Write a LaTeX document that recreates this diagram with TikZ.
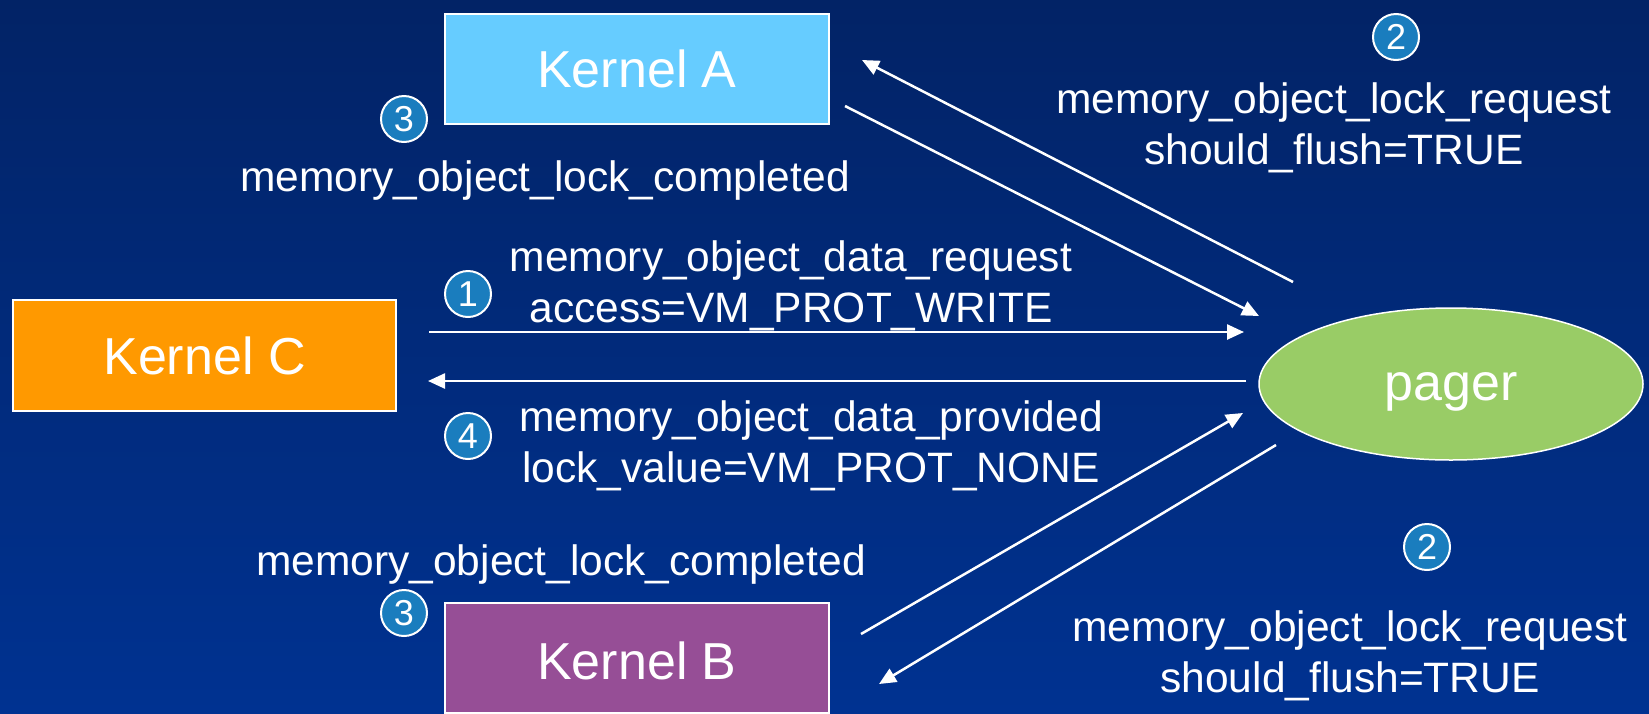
\documentclass[tikz,border=0pt]{standalone}
\usepackage{fontspec}
\setmainfont{Liberation Sans}
\usetikzlibrary{arrows.meta,shapes.geometric}
\definecolor{bgtop}{RGB}{2,35,102}
\definecolor{bgbot}{RGB}{0,50,145}
\definecolor{kA}{RGB}{102,204,255}
\definecolor{kC}{RGB}{255,153,0}
\definecolor{kB}{RGB}{150,78,150}
\definecolor{pg}{RGB}{153,204,102}
\definecolor{num}{RGB}{26,125,190}
\tikzset{
  kbox/.style={draw=white,line width=1.5pt,minimum width=384pt,minimum height=110pt,inner sep=0pt,text=white,font=\fontsize{52}{60}\selectfont},
  lbl/.style={text=white,align=center,inner sep=0pt,font=\fontsize{42.5}{50.5}\selectfont},
  numc/.style={circle,draw=white,line width=2pt,fill=num,minimum size=46pt,inner sep=0pt,text=white,font=\fontsize{36}{40}\selectfont},
  arr/.style={draw=white,line width=2.5pt,-{Triangle[length=17pt,width=15pt]}}
}
\begin{document}
\begin{tikzpicture}[x=1pt,y=-1pt]
\useasboundingbox (0,0) rectangle (1649,713);
\clip (0,0) rectangle (1649,713);
\shade[top color=bgtop,bottom color=bgbot] (0,0) rectangle (1649,713);
\node[kbox,fill=kA] (ka) at (637,69) {Kernel A};
\node[kbox,fill=kC,minimum width=383pt,minimum height=111pt] (kc) at (204.5,355.5) {Kernel C};
\node[kbox,fill=kB,text height=43pt,text depth=0pt] (kb) at (637,658) {Kernel B};
\node[ellipse,fill=pg,draw=white,line width=1.5pt,minimum width=384pt,minimum height=152pt,inner sep=0pt,text=white,text height=40pt,text depth=7pt,font=\fontsize{52}{60}\selectfont] (pager) at (1451,384) {pager};
% labels
\node[numc] (n2a) at (1396,37) {2};
\node[lbl] (t2a) at (1334,128) {memory\_object\_lock\_request\\should\_flush=TRUE};
\node[numc] (n3a) at (404,119) {3};
\node[lbl] (t3a) at (545,181) {memory\_object\_lock\_completed};
\node[numc] (n1) at (468,294) {1};
\node[lbl] (t1) at (791,286) {memory\_object\_data\_request\\access=VM\_PROT\_WRITE};
\node[numc] (n4) at (468,436) {4};
\node[lbl] (t4) at (811,446) {memory\_object\_data\_provided\\lock\_value=VM\_PROT\_NONE};
\node[lbl] (t3b) at (561,565) {memory\_object\_lock\_completed};
\node[numc] (n3b) at (404,613) {3};
\node[numc] (n2b) at (1427,547) {2};
\node[lbl] (t2b) at (1350,656) {memory\_object\_lock\_request\\should\_flush=TRUE};
% connector endpoints
\coordinate (a1s) at (845,106); \coordinate (a1e) at (1259,316);
\coordinate (a2s) at (1293,282); \coordinate (a2e) at (862,60);
\coordinate (a3s) at (429,332); \coordinate (a3e) at (1244,332);
\coordinate (a4s) at (1246,381); \coordinate (a4e) at (428,381);
\coordinate (a5s) at (861,634); \coordinate (a5e) at (1243,413);
\coordinate (a6s) at (1276,445); \coordinate (a6e) at (879,684);
\draw[arr] (a1s) -- (a1e);
\draw[arr] (a2s) -- (a2e);
\draw[arr] (a3s) -- (a3e);
\draw[arr] (a4s) -- (a4e);
\draw[arr] (a5s) -- (a5e);
\draw[arr] (a6s) -- (a6e);
\end{tikzpicture}
\end{document}
